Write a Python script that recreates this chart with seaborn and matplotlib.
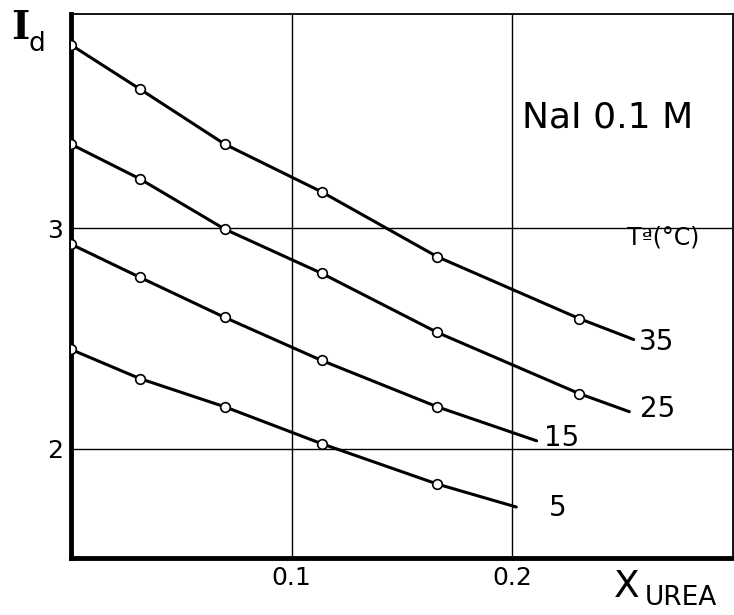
import matplotlib
matplotlib.use("Agg")
import matplotlib.pyplot as plt
import pandas as pd
import seaborn as sns

# measured urea mole fractions (open circles)
x_meas = [0.0, 0.0312, 0.0697, 0.1136, 0.166, 0.2303]

# diffusion current I_d at each temperature
y_35 = [3.83, 3.63, 3.38, 3.164, 2.87, 2.59]
y_25 = [3.38, 3.223, 2.995, 2.795, 2.527, 2.25]
y_15 = [2.927, 2.777, 2.595, 2.40, 2.19]
y_5 = [2.45, 2.318, 2.19, 2.023, 1.84]

# where each drawn curve stops
end_x = {"35": 0.255, "25": 0.253, "15": 0.211, "5": 0.2018}
end_y = {"35": 2.495, "25": 2.168, "15": 2.036, "5": 1.736}

temps = ["35", "25", "15", "5"]
series = {"35": y_35, "25": y_25, "15": y_15, "5": y_5}

rows_pts = []
rows_line = []
for t in temps:
    ys = series[t]
    for x, y in zip(x_meas, ys):
        rows_pts.append({"x": x, "y": y, "T": t})
        rows_line.append({"x": x, "y": y, "T": t})
    rows_line.append({"x": end_x[t], "y": end_y[t], "T": t})
pts = pd.DataFrame(rows_pts)
curves = pd.DataFrame(rows_line)

sns.set_style("white")
plt.rcParams["font.family"] = ["DejaVu Sans"]
plt.rcParams["text.color"] = "black"
plt.rcParams["xtick.color"] = "black"
plt.rcParams["ytick.color"] = "black"

fig = plt.figure(figsize=(7.34, 6.15), dpi=100)
ax = fig.add_axes([71 / 734, 1 - 558 / 615, 662 / 734, 544 / 615])

palette = {t: "black" for t in temps}
sns.lineplot(data=curves, x="x", y="y", hue="T", palette=palette, sort=True,
             estimator=None, linewidth=2.2, legend=False, ax=ax, zorder=3)
sns.scatterplot(data=pts, x="x", y="y", color="white", edgecolor="black",
                linewidth=1.2, s=48, legend=False, ax=ax, zorder=4)

ax.set_xlim(0, 0.30)
ax.set_ylim(1.505, 3.97)
ax.set_xticks([0.1, 0.2])
ax.set_xticklabels(["0.1", "0.2"])
ax.set_yticks([2, 3])
ax.set_yticklabels(["2", "3"])
ax.tick_params(length=0, labelsize=18, pad=6)
ax.set_xlabel("")
ax.set_ylabel("")
ax.grid(True, color="black", linewidth=1.0)

for side in ["left", "bottom"]:
    ax.spines[side].set_linewidth(3.5)
for side in ["top", "right"]:
    ax.spines[side].set_linewidth(1.3)
for s in ax.spines.values():
    s.set_color("black")

# curve labels
ax.text(0.2575, 2.482, "35", fontsize=20, va="center", ha="left")
ax.text(0.258, 2.18, "25", fontsize=20, va="center", ha="left")
ax.text(0.2145, 2.05, "15", fontsize=20, va="center", ha="left")
ax.text(0.2167, 1.73, "5", fontsize=20, va="center", ha="left")

ax.text(0.2045, 3.50, "NaI 0.1 M", fontsize=26, va="center", ha="left")
ax.text(0.252, 2.955, "Tª(°C)", fontsize=17, va="center", ha="left")

# axis titles
fig.text(11 / 734, 1 - 28 / 615, "I", fontsize=28, family="DejaVu Serif",
         weight="bold", va="center", ha="left")
fig.text(28 / 734, 1 - 44 / 615, "d", fontsize=19, va="center", ha="left")
fig.text(614 / 734, 1 - 587 / 615, "X", fontsize=27, va="center", ha="left")
fig.text(645 / 734, 1 - 598 / 615, "UREA", fontsize=19, va="center", ha="left")

fig.savefig("out.png", dpi=100)
